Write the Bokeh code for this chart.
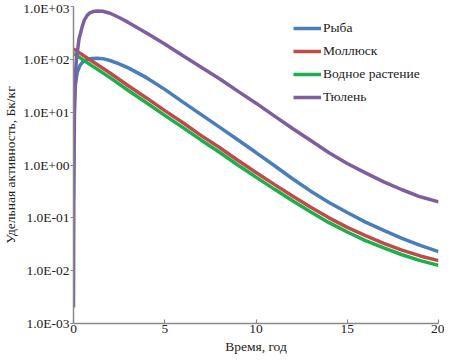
from bokeh.plotting import figure
from bokeh.models import FixedTicker, CustomJSTickFormatter, Legend, LegendItem, Range1d
from bokeh.embed import file_html
from bokeh.resources import INLINE

# ---- data ----
years_fish = [0, 0.02, 0.05, 0.1, 0.2, 0.35, 0.5, 0.75, 1, 1.3, 1.6, 2, 2.5, 3, 4, 5, 6, 7, 8, 9, 10,
              11, 12, 13, 14, 15, 16, 17, 18, 19, 20]
fish = [0.24, 3, 16, 32, 56, 76, 89, 100, 104, 105, 103, 95, 82, 69, 45, 27, 15.5, 9.0, 5.2, 3.0, 1.72,
        0.98, 0.55, 0.32, 0.195, 0.126, 0.083, 0.058, 0.041, 0.030, 0.023]

years_shell = [0, 1, 2, 3, 4, 5, 6, 7, 8, 9, 10, 11, 12, 13, 14, 15, 16, 17, 18, 19, 20]
mollusk = [158, 93, 55, 31.6, 18.6, 10.7, 6.3, 3.6, 2.14, 1.23, 0.72, 0.43, 0.26, 0.158, 0.100,
           0.066, 0.046, 0.033, 0.0245, 0.019, 0.0155]
plant = [129, 76, 45, 25.7, 15.1, 8.7, 5.1, 2.95, 1.74, 1.0, 0.59, 0.35, 0.21, 0.129, 0.081,
         0.054, 0.037, 0.027, 0.020, 0.0155, 0.0126]

years_seal = [0, 0.02, 0.05, 0.1, 0.16, 0.3, 0.48, 0.6, 0.75, 0.9, 1.1, 1.3, 1.6, 2, 2.5, 3, 4, 5, 6, 7, 8,
              9, 10, 11, 12, 13, 14, 15, 16, 17, 18, 19, 20]
seal = [0.002, 0.5, 8, 50, 100, 240, 420, 560, 680, 760, 805, 825, 815, 745, 620, 500, 316, 195, 117, 71, 43,
        25, 14.8, 8.5, 4.9, 2.9, 1.7, 1.07, 0.71, 0.48, 0.34, 0.25, 0.20]

series_names = ["Рыба", "Моллюск", "Водное растение", "Тюлень"]
series_colors = ["#4A7EBB", "#BE4B48", "#1DAF4B", "#7D5FA0"]

x_ticks = [0, 5, 10, 15, 20]
y_ticks = [1e-3, 1e-2, 1e-1, 1e0, 1e1, 1e2, 1e3]
y_tick_labels = ["1.0E-03", "1.0E-02", "1.0E-01", "1.0E+00", "1.0E+01", "1.0E+02", "1.0E+03"]

FONT = "Liberation Serif"

p = figure(width=444, height=356, y_axis_type="log",
           x_range=Range1d(0, 20), y_range=Range1d(1e-3, 1e3),
           output_backend="svg", toolbar_location=None,
           min_border_left=0, min_border_right=6, min_border_top=6, min_border_bottom=0)
p.outline_line_color = None
p.xgrid.visible = False
p.ygrid.visible = False
p.background_fill_color = "white"

r1 = p.line(years_fish, fish, line_color=series_colors[0], line_width=3.5)
r2 = p.line(years_shell, mollusk, line_color=series_colors[1], line_width=3.5)
r3 = p.line(years_shell, plant, line_color=series_colors[2], line_width=3.5)
r4 = p.line(years_seal, seal, line_color=series_colors[3], line_width=3.5)

for ax in (p.xaxis[0], p.yaxis[0]):
    ax.axis_line_color = "#8a8a8a"
    ax.axis_line_width = 1.5
    ax.major_tick_line_color = "#8a8a8a"
    ax.major_tick_line_width = 1.2
    ax.minor_tick_line_color = None
    ax.major_label_text_font = FONT
    ax.major_label_text_font_size = "13.5px"
    ax.major_label_text_color = "#222222"
    ax.axis_label_text_font = FONT
    ax.axis_label_text_font_size = "13.5px"
    ax.axis_label_text_font_style = "normal"
    ax.axis_label_text_color = "#222222"

xa = p.xaxis[0]
xa.ticker = FixedTicker(ticks=x_ticks, minor_ticks=[])
xa.major_tick_in = 4
xa.major_tick_out = 0
xa.major_label_standoff = 1
xa.axis_label = "Время, год"
xa.axis_label_standoff = 3

ya = p.yaxis[0]
ya.ticker = FixedTicker(ticks=y_ticks, minor_ticks=[])
ya.major_tick_in = 0
ya.major_tick_out = 3
ya.major_label_standoff = 1
ya.axis_label = "Удельная активность, Бк/кг"
ya.axis_label_standoff = 2
ya.formatter = CustomJSTickFormatter(args=dict(tvals=y_ticks, tlabels=y_tick_labels), code="""
let best = 0, bd = Infinity;
for (let i = 0; i < tvals.length; i++) {
  const d = Math.abs(Math.log10(tick) - Math.log10(tvals[i]));
  if (d < bd) { bd = d; best = i; }
}
return tlabels[best];
""")

legend = Legend(items=[LegendItem(label=n, renderers=[r]) for n, r in zip(series_names, [r1, r2, r3, r4])],
                location=(220, 218))
legend.border_line_color = None
legend.background_fill_alpha = 0
legend.padding = 0
legend.spacing = 7
legend.glyph_width = 28
legend.glyph_height = 16
legend.label_height = 16
legend.label_standoff = 2
legend.label_text_font = FONT
legend.label_text_font_size = "13.5px"
legend.label_text_color = "#222222"
p.add_layout(legend)

open("out.html", "w").write(file_html(p, INLINE))
